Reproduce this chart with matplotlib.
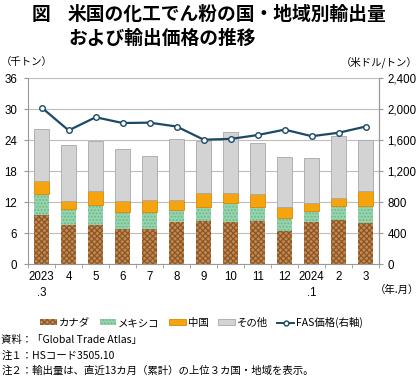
import matplotlib
matplotlib.use("Agg")
import matplotlib.pyplot as plt
from matplotlib.patches import Patch
from matplotlib.lines import Line2D
import numpy as np

plt.rcParams['font.family'] = ['Liberation Sans', 'Noto Sans CJK JP', 'DejaVu Sans']
plt.rcParams['hatch.linewidth'] = 0.9

months = ["2023\n.3", "4", "5", "6", "7", "8", "9", "10", "11", "12", "2024\n.1", "2", "3"]
canada = [9.55, 7.6, 7.55, 6.8, 6.85, 8.05, 8.4, 8.15, 8.4, 6.3, 8.2, 8.5, 7.9]
mexico = [3.95, 3.0, 3.95, 3.2, 3.25, 2.4, 2.6, 3.65, 2.6, 2.7, 2.1, 2.7, 3.4]
china = [2.5, 1.7, 2.6, 2.2, 2.3, 2.0, 2.7, 1.9, 2.5, 2.1, 1.5, 1.6, 2.8]
other = [10.1, 10.7, 9.8, 10.0, 8.6, 11.85, 10.2, 11.8, 9.9, 9.7, 8.7, 12.0, 10.0]
fas_price = [2020, 1725, 1895, 1820, 1825, 1775, 1605, 1615, 1665, 1735, 1650, 1695, 1775]

CAN_F, CAN_H = '#c08a50', '#8e5628'
MEX_F, MEX_H = '#96d4ae', '#6cb88b'
CHN_F, CHN_E = '#f5a30f', '#d98a00'
OTH_F, OTH_E = '#d3d3d3', '#a8a8a8'
LINE_C = '#1b4966'

fig = plt.figure(figsize=(4.2, 3.81), dpi=100)
ax = fig.add_axes([0.067, 0.307, 0.836, 0.488])

x = np.arange(len(months))
w = 0.55
c_can = np.array(canada)
c_mex = np.array(mexico)
c_chn = np.array(china)
c_oth = np.array(other)

ax.bar(x, c_can, w, color=CAN_F, edgecolor=CAN_H, hatch='xxxxxx', linewidth=0, zorder=2)
ax.bar(x, c_mex, w, bottom=c_can, color=MEX_F, edgecolor=MEX_H, hatch='.....', linewidth=0, zorder=2)
ax.bar(x, c_chn, w, bottom=c_can + c_mex, color=CHN_F, edgecolor=CHN_E, linewidth=0.6, zorder=2)
ax.bar(x, c_oth, w, bottom=c_can + c_mex + c_chn, color=OTH_F, edgecolor=OTH_E, linewidth=0.6, zorder=2)

ax.set_xlim(-0.5, len(months) - 0.5)
ax.set_ylim(0, 36)
ax.set_yticks(np.arange(0, 37, 6))
ax.yaxis.grid(True, color='#bdbdbd', linewidth=0.8, zorder=0)
ax.set_axisbelow(True)
ax.set_xticks(x)
ax.set_xticklabels(months, fontsize=8.3, linespacing=1.5)
ax.set_xticks(np.arange(-0.5, len(months), 1), minor=True)
ax.tick_params(axis='x', which='major', length=0, pad=5)
ax.tick_params(axis='x', which='minor', length=3, color='#999999')
ax.tick_params(axis='y', length=3, color='#999999', labelsize=8.3, pad=5)
ax.spines['top'].set_visible(False)
for s in ['left', 'right', 'bottom']:
    ax.spines[s].set_color('#999999')

ax2 = ax.twinx()
ax2.plot(x, fas_price, color=LINE_C, linewidth=1.6, marker='o', markersize=4,
         markerfacecolor='white', markeredgecolor=LINE_C, markeredgewidth=1.0, zorder=5)
ax2.set_ylim(0, 2400)
ax2.set_yticks(np.arange(0, 2401, 400))
ax2.set_yticklabels([f"{v:,}" for v in range(0, 2401, 400)])
ax2.tick_params(axis='y', length=3, color='#999999', labelsize=8.3, pad=3)
for s in ['top', 'left', 'bottom']:
    ax2.spines[s].set_visible(False)
ax2.spines['right'].set_color('#999999')

fig.text(0.075, 0.962, "図", fontsize=13.5, fontweight='bold', va='center', ha='left',
         family=['Noto Sans CJK JP'])
fig.text(0.162, 0.962, "米国の化工でん粉の国・地域別輸出量", fontsize=13.5, fontweight='bold',
         va='center', ha='left', family=['Noto Sans CJK JP'])
fig.text(0.162, 0.898, "および輸出価格の推移", fontsize=13.5, fontweight='bold',
         va='center', ha='left', family=['Noto Sans CJK JP'])

fig.text(0.003, 0.837, "（千トン）", fontsize=7.5, va='center', ha='left', family=['Noto Sans CJK JP'])
fig.text(0.995, 0.837, "（米ドル/トン）", fontsize=7.5, va='center', ha='right', family=['Noto Sans CJK JP'])
fig.text(0.998, 0.238, "（年.月）", fontsize=7.5, va='center', ha='right', family=['Noto Sans CJK JP'])

handles = [
    Patch(facecolor=CAN_F, edgecolor=CAN_H, hatch='xxxxxx', linewidth=0),
    Patch(facecolor=MEX_F, edgecolor=MEX_H, hatch='.....', linewidth=0),
    Patch(facecolor=CHN_F, edgecolor=CHN_E, linewidth=0.6),
    Patch(facecolor=OTH_F, edgecolor=OTH_E, linewidth=0.6),
    Line2D([0], [0], color=LINE_C, linewidth=1.4, marker='o', markersize=3.5,
           markerfacecolor='white', markeredgecolor=LINE_C),
]
labels = ["カナダ", "メキシコ", "中国", "その他", "FAS価格(右軸)"]
fig.legend(handles, labels, loc='center', bbox_to_anchor=(0.48, 0.153), ncol=5, frameon=False,
           handlelength=1.6, handleheight=0.5, handletextpad=0.2,
           columnspacing=0.9, prop={'family': ['Noto Sans CJK JP', 'Liberation Sans'], 'size': 7.5})

notes = ["資料：「Global Trade Atlas」",
         "注１：HSコード3505.10",
         "注２：輸出量は、直近13カ月（累計）の上位３カ国・地域を表示。"]
for i, t in enumerate(notes):
    fig.text(0.003, 0.107 - i * 0.04, t, fontsize=7.5, va='center', ha='left',
             family=['Noto Sans CJK JP', 'Liberation Sans'])

fig.savefig("out.png", dpi=100)
